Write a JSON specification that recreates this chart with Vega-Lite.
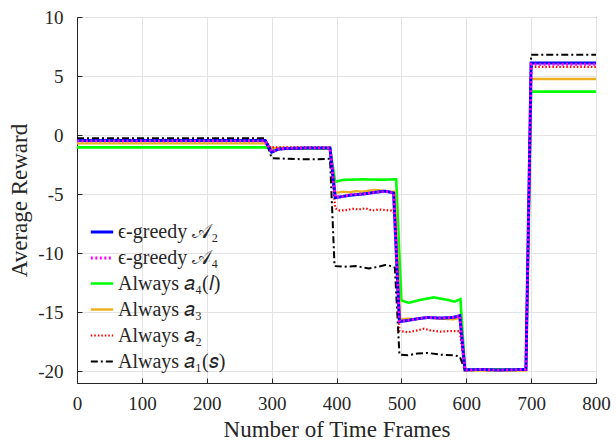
{
  "$schema": "https://vega.github.io/schema/vega-lite/v6.json",
  "autosize": {"type": "none"},
  "width": 519,
  "height": 366,
  "padding": {"left": 77, "top": 17, "right": 20, "bottom": 59},
  "background": "white",
  "config": {
    "font": "Liberation Serif",
    "view": {"stroke": "#262626", "strokeWidth": 1},
    "axis": {"labelFont": "Liberation Serif", "titleFont": "Liberation Serif", "labelFontSize": 19, "titleFontSize": 23, "labelColor": "#262626", "titleColor": "#262626", "titleFontWeight": "normal", "domainColor": "#262626", "tickColor": "#262626", "gridColor": "#e3e3e3", "gridWidth": 1, "labelFlush": false}
  },
  "data": {"values": [
    {"s":"g4","x":0,"y":-1.04},{"s":"g4","x":290,"y":-1.04},{"s":"g4","x":298,"y":-1.15},{"s":"g4","x":390,"y":-1.15},{"s":"g4","x":398,"y":-3.95},{"s":"g4","x":410,"y":-3.8},{"s":"g4","x":440,"y":-3.75},{"s":"g4","x":470,"y":-3.78},{"s":"g4","x":492,"y":-3.75},{"s":"g4","x":500,"y":-14.0},{"s":"g4","x":505,"y":-14.1},{"s":"g4","x":512,"y":-14.2},{"s":"g4","x":530,"y":-13.95},{"s":"g4","x":550,"y":-13.75},{"s":"g4","x":570,"y":-13.95},{"s":"g4","x":582,"y":-14.1},{"s":"g4","x":591,"y":-13.9},{"s":"g4","x":598,"y":-19.85},{"s":"g4","x":692,"y":-19.85},{"s":"g4","x":700,"y":3.68},{"s":"g4","x":800,"y":3.68},
    {"s":"o3","x":0,"y":-0.7},{"s":"o3","x":290,"y":-0.7},{"s":"o3","x":298,"y":-1.1},{"s":"o3","x":390,"y":-1.1},{"s":"o3","x":398,"y":-4.9},{"s":"o3","x":410,"y":-4.8},{"s":"o3","x":420,"y":-4.85},{"s":"o3","x":430,"y":-4.75},{"s":"o3","x":440,"y":-4.8},{"s":"o3","x":450,"y":-4.7},{"s":"o3","x":460,"y":-4.65},{"s":"o3","x":470,"y":-4.7},{"s":"o3","x":480,"y":-4.8},{"s":"o3","x":490,"y":-4.8},{"s":"o3","x":498,"y":-15.6},{"s":"o3","x":510,"y":-15.55},{"s":"o3","x":520,"y":-15.6},{"s":"o3","x":540,"y":-15.45},{"s":"o3","x":560,"y":-15.55},{"s":"o3","x":580,"y":-15.6},{"s":"o3","x":590,"y":-15.5},{"s":"o3","x":598,"y":-19.95},{"s":"o3","x":692,"y":-19.95},{"s":"o3","x":700,"y":4.75},{"s":"o3","x":800,"y":4.75},
    {"s":"r2","x":0,"y":-0.4},{"s":"r2","x":290,"y":-0.4},{"s":"r2","x":298,"y":-1.05},{"s":"r2","x":390,"y":-1.05},{"s":"r2","x":398,"y":-6.2},{"s":"r2","x":405,"y":-6.4},{"s":"r2","x":415,"y":-6.35},{"s":"r2","x":425,"y":-6.25},{"s":"r2","x":435,"y":-6.3},{"s":"r2","x":445,"y":-6.2},{"s":"r2","x":455,"y":-6.4},{"s":"r2","x":465,"y":-6.3},{"s":"r2","x":475,"y":-6.35},{"s":"r2","x":485,"y":-6.4},{"s":"r2","x":490,"y":-6.7},{"s":"r2","x":497,"y":-16.6},{"s":"r2","x":510,"y":-16.7},{"s":"r2","x":520,"y":-16.6},{"s":"r2","x":535,"y":-16.4},{"s":"r2","x":545,"y":-16.55},{"s":"r2","x":560,"y":-16.65},{"s":"r2","x":575,"y":-16.6},{"s":"r2","x":590,"y":-16.6},{"s":"r2","x":598,"y":-19.9},{"s":"r2","x":692,"y":-19.9},{"s":"r2","x":700,"y":5.77},{"s":"r2","x":800,"y":5.77},
    {"s":"k1","x":0,"y":-0.28},{"s":"k1","x":290,"y":-0.28},{"s":"k1","x":300,"y":-1.95},{"s":"k1","x":320,"y":-2.0},{"s":"k1","x":350,"y":-2.05},{"s":"k1","x":370,"y":-2.05},{"s":"k1","x":390,"y":-2.0},{"s":"k1","x":397,"y":-11.1},{"s":"k1","x":410,"y":-11.15},{"s":"k1","x":430,"y":-11.1},{"s":"k1","x":450,"y":-11.3},{"s":"k1","x":465,"y":-11.15},{"s":"k1","x":475,"y":-11.0},{"s":"k1","x":485,"y":-11.1},{"s":"k1","x":490,"y":-11.25},{"s":"k1","x":497,"y":-18.6},{"s":"k1","x":510,"y":-18.65},{"s":"k1","x":525,"y":-18.5},{"s":"k1","x":540,"y":-18.45},{"s":"k1","x":560,"y":-18.6},{"s":"k1","x":580,"y":-18.65},{"s":"k1","x":590,"y":-18.75},{"s":"k1","x":598,"y":-19.9},{"s":"k1","x":692,"y":-19.9},{"s":"k1","x":700,"y":6.8},{"s":"k1","x":800,"y":6.8},
    {"s":"A2","x":0,"y":-0.47},{"s":"A2","x":290,"y":-0.47},{"s":"A2","x":300,"y":-1.45},{"s":"A2","x":310,"y":-1.2},{"s":"A2","x":320,"y":-1.15},{"s":"A2","x":350,"y":-1.1},{"s":"A2","x":390,"y":-1.1},{"s":"A2","x":398,"y":-5.3},{"s":"A2","x":410,"y":-5.2},{"s":"A2","x":420,"y":-5.1},{"s":"A2","x":440,"y":-5.0},{"s":"A2","x":460,"y":-4.85},{"s":"A2","x":475,"y":-4.75},{"s":"A2","x":488,"y":-4.9},{"s":"A2","x":497,"y":-15.8},{"s":"A2","x":510,"y":-15.7},{"s":"A2","x":520,"y":-15.6},{"s":"A2","x":540,"y":-15.45},{"s":"A2","x":560,"y":-15.5},{"s":"A2","x":580,"y":-15.45},{"s":"A2","x":590,"y":-15.3},{"s":"A2","x":598,"y":-19.9},{"s":"A2","x":620,"y":-19.85},{"s":"A2","x":650,"y":-19.9},{"s":"A2","x":692,"y":-19.85},{"s":"A2","x":700,"y":6.1},{"s":"A2","x":800,"y":6.1},
    {"s":"A4","x":0,"y":-0.5},{"s":"A4","x":290,"y":-0.5},{"s":"A4","x":300,"y":-1.4},{"s":"A4","x":310,"y":-1.2},{"s":"A4","x":320,"y":-1.12},{"s":"A4","x":350,"y":-1.1},{"s":"A4","x":390,"y":-1.1},{"s":"A4","x":398,"y":-5.25},{"s":"A4","x":410,"y":-5.2},{"s":"A4","x":420,"y":-5.05},{"s":"A4","x":440,"y":-5.0},{"s":"A4","x":460,"y":-4.85},{"s":"A4","x":475,"y":-4.78},{"s":"A4","x":488,"y":-4.9},{"s":"A4","x":497,"y":-15.75},{"s":"A4","x":510,"y":-15.7},{"s":"A4","x":520,"y":-15.6},{"s":"A4","x":540,"y":-15.45},{"s":"A4","x":560,"y":-15.5},{"s":"A4","x":580,"y":-15.45},{"s":"A4","x":590,"y":-15.3},{"s":"A4","x":598,"y":-19.9},{"s":"A4","x":620,"y":-19.85},{"s":"A4","x":650,"y":-19.9},{"s":"A4","x":692,"y":-19.85},{"s":"A4","x":700,"y":6.0},{"s":"A4","x":800,"y":6.0}
  ]},
  "layer": [
    {
      "mark": {"type": "line", "clip": true},
      "encoding": {
        "x": {"field": "x", "type": "quantitative", "scale": {"domain": [0, 800], "nice": false},
              "axis": {"title": "Number of Time Frames", "values": [0,100,200,300,400,500,600,700,800], "tickSize": -5, "labelPadding": 16, "titlePadding": 5, "domain": true}},
        "y": {"field": "y", "type": "quantitative", "scale": {"domain": [-21, 10], "nice": false, "zero": false},
              "axis": {"title": "Average Reward", "values": [-20,-15,-10,-5,0,5,10], "labelExpr": "toString(datum.value)", "tickSize": -5, "labelPadding": 19, "titlePadding": 6}},
        "color": {"field": "s", "type": "nominal",
          "scale": {"domain": ["A2","A4","g4","o3","r2","k1"], "range": ["#0000ff","#ff00ff","#00ff00","#edb120","#ff0000","#000000"]},
          "legend": {"title": null, "orient": "none", "legendX": 12, "legendY": 202, "symbolType": "stroke", "symbolSize": 500, "symbolStrokeWidth": 2.5, "labelFontSize": 20, "labelFont": "Liberation Serif", "labelColor": "#262626", "rowPadding": 3, "labelOffset": 3, "padding": 0,
            "labelExpr": "{'A2':'ϵ-greedy 𝒜₂','A4':'ϵ-greedy 𝒜₄','g4':'Always 𝑎₄(𝑙)','o3':'Always 𝑎₃','r2':'Always 𝑎₂','k1':'Always 𝑎₁(𝑠)'}[datum.value]"}},
        "strokeDash": {"field": "s", "type": "nominal",
          "scale": {"domain": ["A2","A4","g4","o3","r2","k1"], "range": [[1,0],[2,2.5],[1,0],[1,0],[1.5,2],[7,3,2,3]]}},
        "strokeWidth": {"field": "s", "type": "nominal", "legend": null,
          "scale": {"domain": ["A2","A4","g4","o3","r2","k1"], "range": [3,2,2,2,1.6,2]}}
      }
    }
  ]
}
